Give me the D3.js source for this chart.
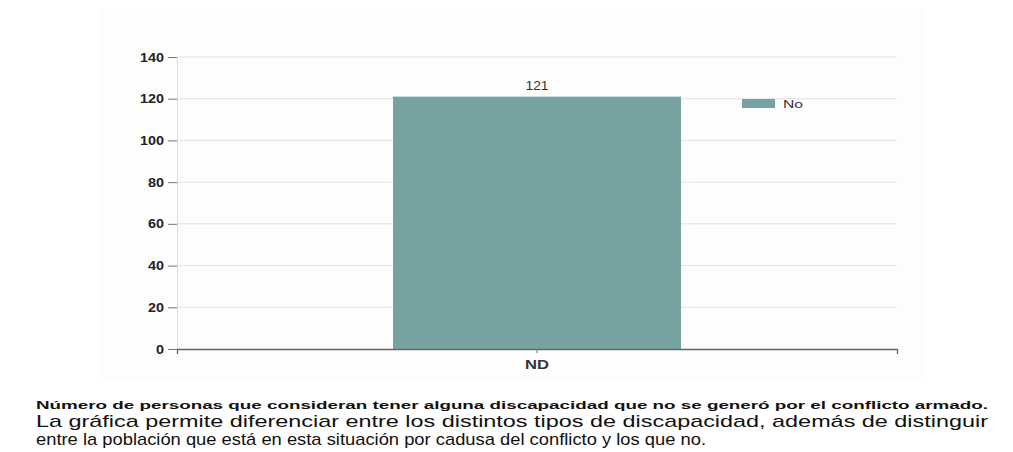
<!DOCTYPE html>
<html><head><meta charset="utf-8">
<script src="https://cdn.jsdelivr.net/npm/d3@7/dist/d3.min.js"></script>
<style>body{margin:0;background:#fff;}svg{display:block;font-family:"Liberation Sans",Arial,sans-serif;}</style>
</head><body><svg id="c" width="1013" height="452"></svg>
<script>
const categories = ["ND"];
const seriesName = "No";
const values = [121];
const yTicks = [0, 20, 40, 60, 80, 100, 120, 140];
const captionTitle = "Número de personas que consideran tener alguna discapacidad que no se generó por el conflicto armado.";
const captionLines = [
  "La gráfica permite diferenciar entre los distintos tipos de discapacidad, además de distinguir",
  "entre la población que está en esta situación por cadusa del conflicto y los que no."
];

(function () {
const svg = d3.select("#c");
const mLeft = 177, mRight = 897, mTop = 57, mBottom = 349;
const barColor = "#76a3a0";
const perChar = 8; // stretched glyph width of the small labels

svg.append("rect").attr("x", 100).attr("y", 8).attr("width", 825).attr("height", 372).attr("fill", "#fdfdfd");

const y = d3.scaleLinear().domain([0, 140]).range([mBottom, mTop]);
const x = d3.scaleBand().domain(categories).range([mLeft, mRight]).paddingInner(0.6).paddingOuter(0.3);

// gridlines
svg.append("g").selectAll("line").data(yTicks.filter(t => t > 0)).join("line")
  .attr("x1", mLeft).attr("x2", mRight)
  .attr("y1", d => y(d)).attr("y2", d => y(d))
  .attr("stroke", "#e3e3e3").attr("stroke-width", 1);

// bars
svg.append("g").selectAll("rect").data(values).join("rect")
  .attr("x", (d, i) => x(categories[i]))
  .attr("width", x.bandwidth())
  .attr("y", d => y(d))
  .attr("height", d => y(0) - y(d))
  .attr("fill", barColor);

// value labels
svg.append("g").selectAll("text").data(values).join("text")
  .attr("x", (d, i) => x(categories[i]) + x.bandwidth() / 2)
  .attr("y", d => y(d) - 7)
  .attr("text-anchor", "middle").attr("font-size", 12.5).attr("fill", "#333")
  .attr("textLength", d => String(d).length * 7.7).attr("lengthAdjust", "spacingAndGlyphs")
  .text(d => d);

// y axis
const yAxis = d3.axisLeft(y).tickValues(yTicks).tickSize(9).tickPadding(4);
const gy = svg.append("g").attr("transform", `translate(${mLeft},0)`).call(yAxis);
gy.select(".domain").attr("stroke", "#ddd");
gy.selectAll(".tick line").attr("stroke", "#777");
gy.selectAll(".tick text").attr("font-size", 12.5).attr("font-weight", "bold").attr("fill", "#222")
  .attr("font-family", "'Liberation Sans', Arial, sans-serif")
  .attr("textLength", d => String(d).length * perChar).attr("lengthAdjust", "spacingAndGlyphs");

// x axis
const xAxis = d3.axisBottom(x).tickSize(4).tickPadding(7).tickSizeOuter(5);
const gx = svg.append("g").attr("transform", `translate(0,${mBottom})`).call(xAxis);
gx.select(".domain").attr("stroke", "#666").attr("stroke-width", 1.3);
gx.selectAll(".tick line").attr("stroke", "#777");
gx.selectAll(".tick text").attr("font-size", 12).attr("font-weight", "bold").attr("fill", "#333")
  .attr("font-family", "'Liberation Sans', Arial, sans-serif")
  .attr("textLength", d => String(d).length * 12).attr("lengthAdjust", "spacingAndGlyphs");

// legend
const lg = svg.append("g").attr("transform", "translate(742,99)");
lg.append("rect").attr("width", 33).attr("height", 9).attr("fill", barColor);
lg.append("text").attr("x", 41).attr("y", 9).attr("font-size", 11.5).attr("fill", "#333")
  .attr("textLength", 20).attr("lengthAdjust", "spacingAndGlyphs").text(seriesName);

// caption
svg.append("text").attr("x", 36).attr("y", 409).attr("font-size", 11).attr("font-weight", "bold")
  .attr("fill", "#111").attr("textLength", 952).attr("lengthAdjust", "spacingAndGlyphs").text(captionTitle);
svg.append("text").attr("x", 36).attr("y", 427).attr("font-size", 17).attr("fill", "#111")
  .attr("textLength", 952).attr("lengthAdjust", "spacingAndGlyphs").text(captionLines[0]);
svg.append("text").attr("x", 36).attr("y", 445).attr("font-size", 17).attr("fill", "#111")
  .attr("textLength", 670).attr("lengthAdjust", "spacingAndGlyphs").text(captionLines[1]);
})();
</script></body></html>
